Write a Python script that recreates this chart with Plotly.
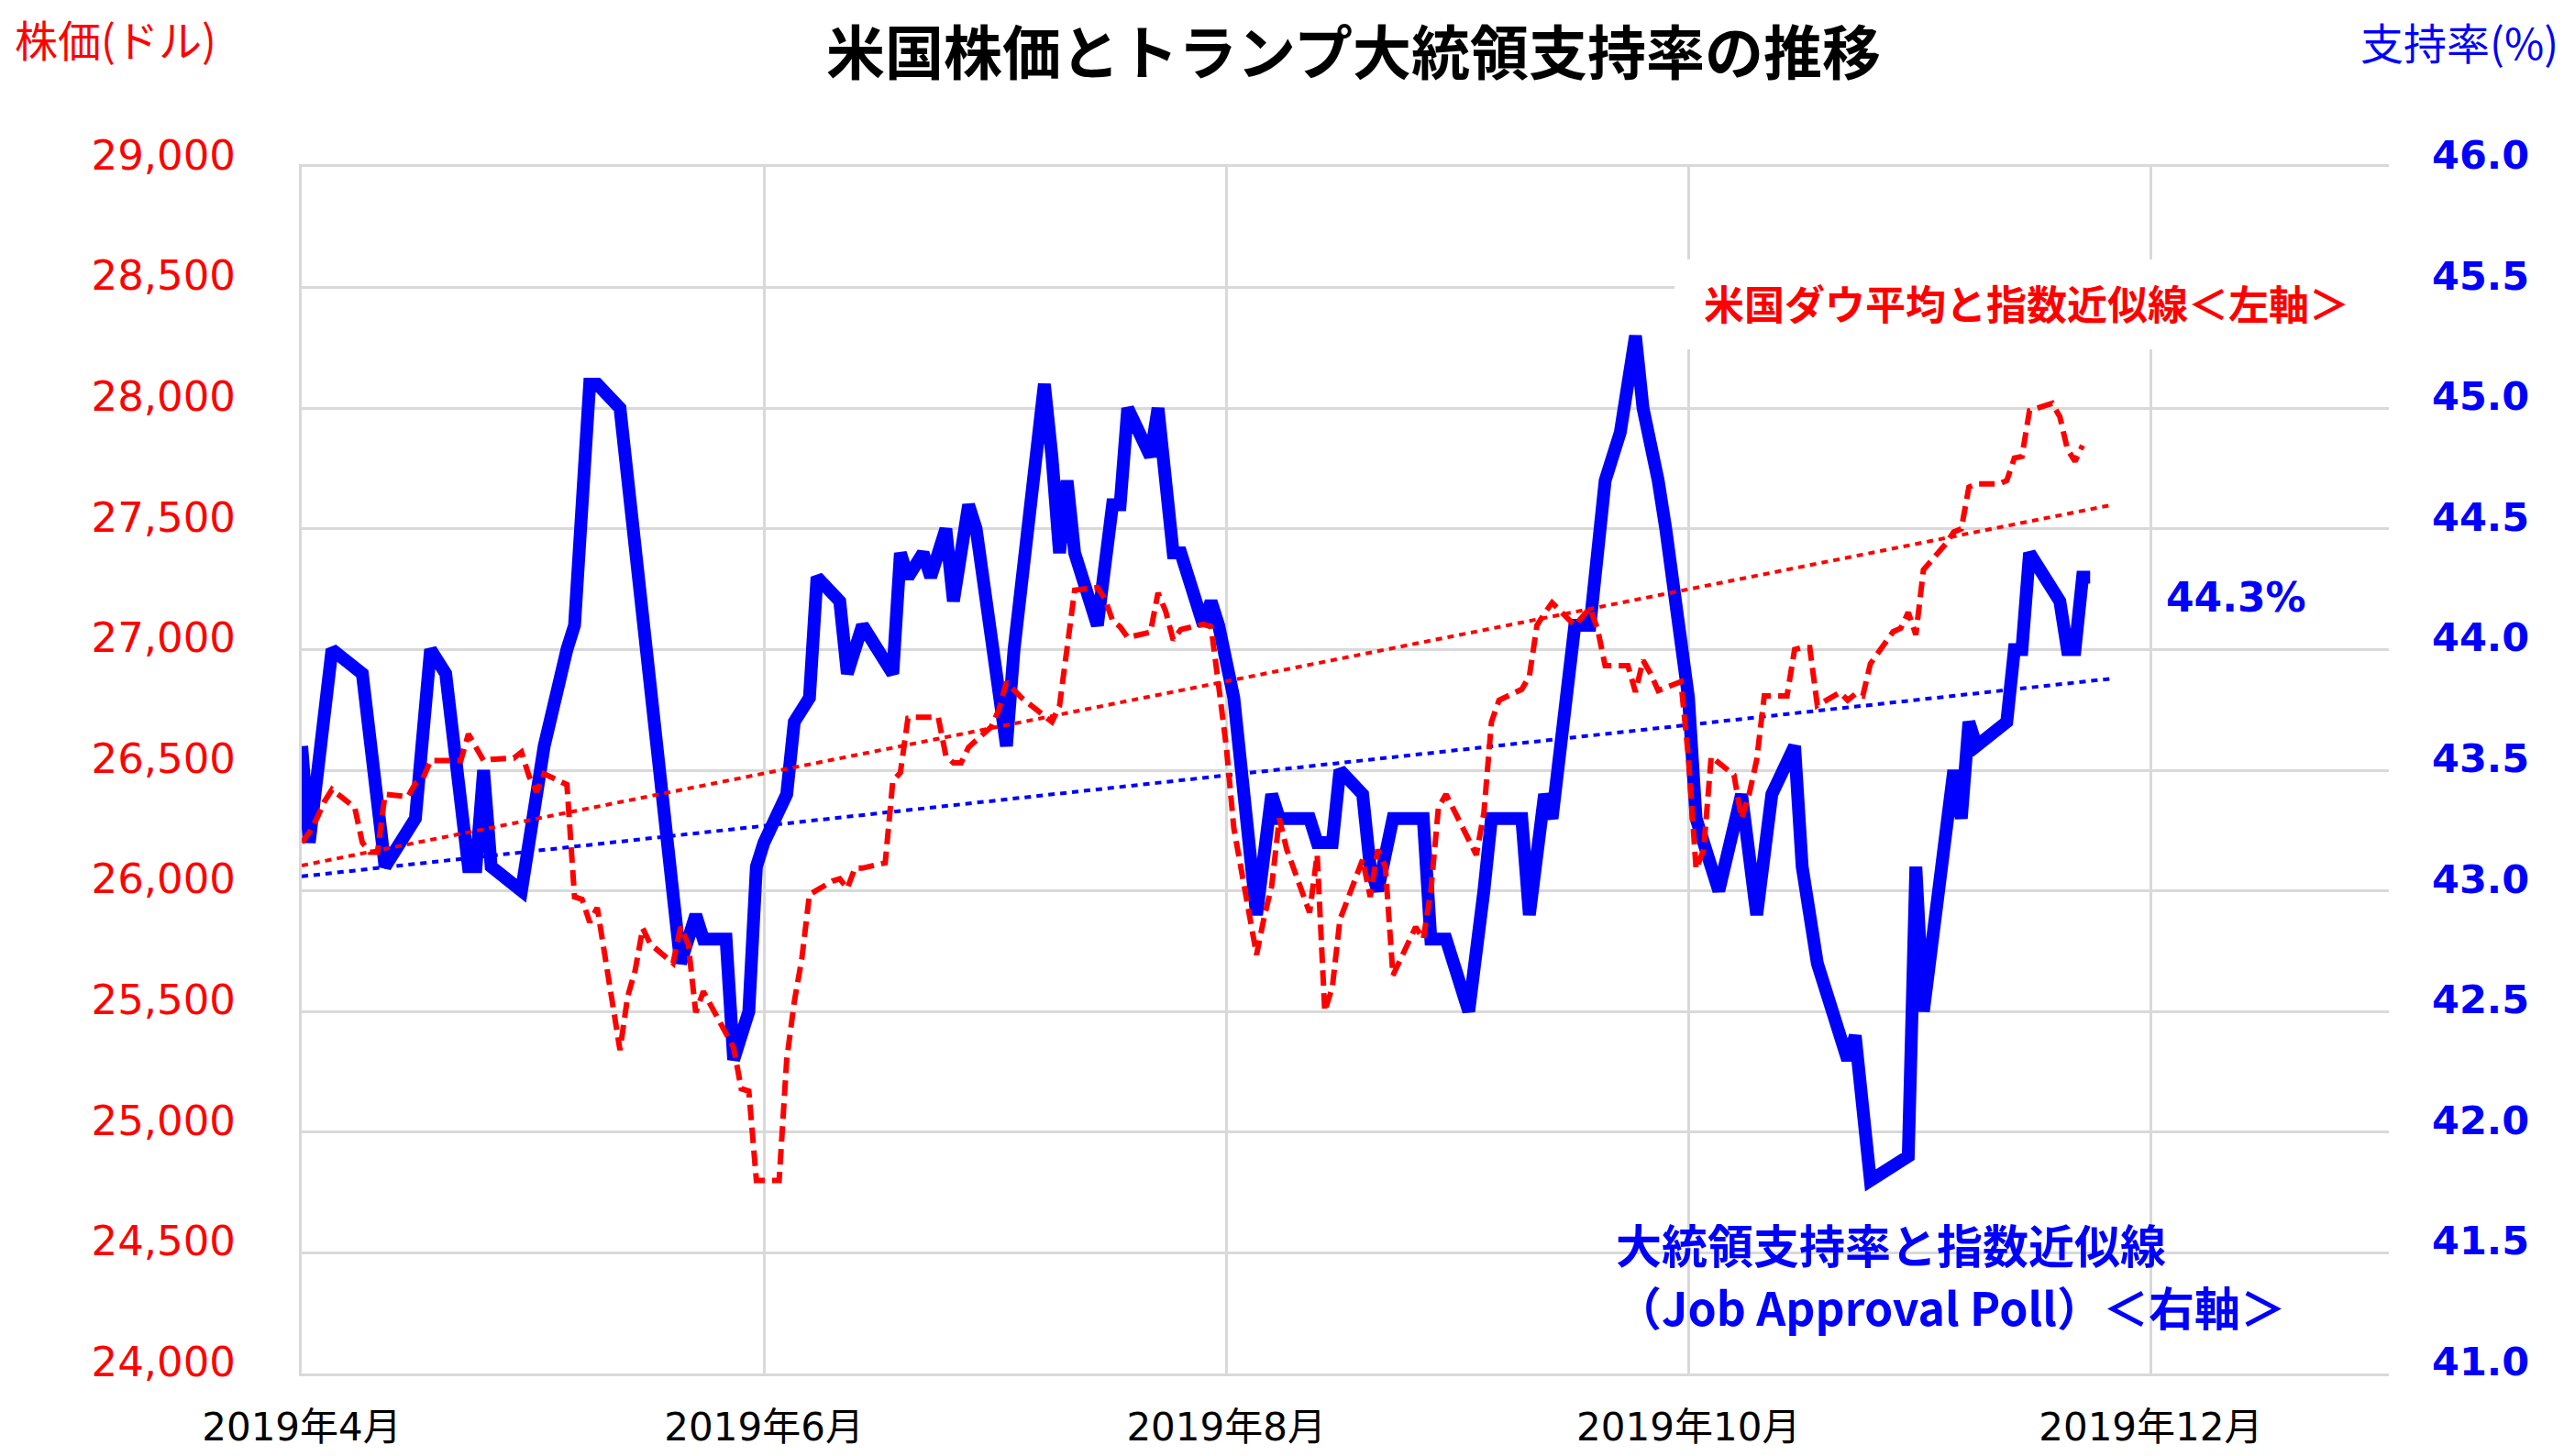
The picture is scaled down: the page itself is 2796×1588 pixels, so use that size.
import plotly.graph_objects as go

# ---------------- data ----------------
dow_dates = [
    "2019-04-01", "2019-04-02", "2019-04-03", "2019-04-04", "2019-04-05", "2019-04-08", "2019-04-09",
    "2019-04-10", "2019-04-11", "2019-04-12", "2019-04-15", "2019-04-16", "2019-04-17", "2019-04-18",
    "2019-04-22", "2019-04-23", "2019-04-24", "2019-04-25", "2019-04-26", "2019-04-29", "2019-04-30",
    "2019-05-01", "2019-05-02", "2019-05-03", "2019-05-06", "2019-05-07", "2019-05-08", "2019-05-09",
    "2019-05-10", "2019-05-13", "2019-05-14", "2019-05-15", "2019-05-16", "2019-05-17", "2019-05-20",
    "2019-05-21", "2019-05-22", "2019-05-23", "2019-05-24", "2019-05-28", "2019-05-29", "2019-05-30",
    "2019-05-31", "2019-06-03", "2019-06-04", "2019-06-05", "2019-06-06", "2019-06-07", "2019-06-10",
    "2019-06-11", "2019-06-12", "2019-06-13", "2019-06-14", "2019-06-17", "2019-06-18", "2019-06-19",
    "2019-06-20", "2019-06-21", "2019-06-24", "2019-06-25", "2019-06-26", "2019-06-27", "2019-06-28",
    "2019-07-01", "2019-07-02", "2019-07-03", "2019-07-05", "2019-07-08", "2019-07-09", "2019-07-10",
    "2019-07-11", "2019-07-12", "2019-07-15", "2019-07-16", "2019-07-17", "2019-07-18", "2019-07-19",
    "2019-07-22", "2019-07-23", "2019-07-24", "2019-07-25", "2019-07-26", "2019-07-29", "2019-07-30",
    "2019-07-31", "2019-08-01", "2019-08-02", "2019-08-05", "2019-08-06", "2019-08-07", "2019-08-08",
    "2019-08-09", "2019-08-12", "2019-08-13", "2019-08-14", "2019-08-15", "2019-08-16", "2019-08-19",
    "2019-08-20", "2019-08-21", "2019-08-22", "2019-08-23", "2019-08-26", "2019-08-27", "2019-08-28",
    "2019-08-29", "2019-08-30", "2019-09-03", "2019-09-04", "2019-09-05", "2019-09-06", "2019-09-09",
    "2019-09-10", "2019-09-11", "2019-09-12", "2019-09-13", "2019-09-16", "2019-09-17", "2019-09-18",
    "2019-09-19", "2019-09-20", "2019-09-23", "2019-09-24", "2019-09-25", "2019-09-26", "2019-09-27",
    "2019-09-30", "2019-10-01", "2019-10-02", "2019-10-03", "2019-10-04", "2019-10-07", "2019-10-08",
    "2019-10-09", "2019-10-10", "2019-10-11", "2019-10-14", "2019-10-15", "2019-10-16", "2019-10-17",
    "2019-10-18", "2019-10-21", "2019-10-22", "2019-10-23", "2019-10-24", "2019-10-25", "2019-10-28",
    "2019-10-29", "2019-10-30", "2019-10-31", "2019-11-01", "2019-11-04", "2019-11-05", "2019-11-06",
    "2019-11-07", "2019-11-08", "2019-11-11", "2019-11-12", "2019-11-13", "2019-11-14", "2019-11-15",
    "2019-11-18", "2019-11-19", "2019-11-20", "2019-11-21", "2019-11-22",
]
dow_values = [
    26200, 26240, 26300, 26370, 26420, 26345, 26200,
    26160, 26160, 26400, 26390, 26445, 26465, 26540,
    26540, 26650, 26595, 26540, 26545, 26550, 26575,
    26475, 26410, 26485, 26440, 25975, 25965, 25870,
    25930, 25340, 25560, 25670, 25845, 25780, 25700,
    25850, 25780, 25496, 25583, 25350, 25180, 25170,
    24800, 24800, 25300, 25540, 25720, 25985, 26040,
    26050, 26010, 26094, 26094, 26116, 26454, 26490,
    26715, 26719, 26719, 26560, 26530, 26530, 26595,
    26680, 26750, 26865, 26800, 26720, 26700, 26767,
    27000, 27246, 27257, 27210, 27120, 27094, 27050,
    27072, 27235, 27159, 27040, 27083, 27105, 27094,
    26850, 26600, 26260, 25735, 25890, 26020, 26300,
    26170, 25910, 26150, 25500, 25600, 25880, 26130,
    25975, 26171, 26100, 25650, 25850, 25800, 26000,
    26345, 26400, 26149, 26323, 26700, 26790, 26835,
    26889, 27100, 27150, 27194, 27100, 27140, 27172,
    27085, 26933, 26933, 26824, 26955, 26900, 26830,
    26867, 26550, 26090, 26170, 26556, 26480, 26300,
    26400, 26543, 26808, 26808, 27000, 27008, 27008,
    26768, 26822, 26790, 26815, 26808, 26941, 27074,
    27088, 27154, 27061, 27330, 27440, 27487, 27500,
    27673, 27686, 27686, 27700, 27793, 27800, 27990,
    28020, 27965, 27830, 27780, 27846,
]

approval_dates = [
    "2019-04-01", "2019-04-02", "2019-04-05", "2019-04-09", "2019-04-12", "2019-04-16", "2019-04-18",
    "2019-04-20", "2019-04-23", "2019-04-24", "2019-04-25", "2019-04-26", "2019-04-30", "2019-05-03",
    "2019-05-06", "2019-05-07", "2019-05-09", "2019-05-10", "2019-05-13", "2019-05-16", "2019-05-18",
    "2019-05-21", "2019-05-23", "2019-05-24", "2019-05-27", "2019-05-28", "2019-05-30", "2019-05-31",
    "2019-06-01", "2019-06-04", "2019-06-05", "2019-06-07", "2019-06-08", "2019-06-11", "2019-06-12",
    "2019-06-14", "2019-06-18", "2019-06-19", "2019-06-20", "2019-06-22", "2019-06-23", "2019-06-25",
    "2019-06-26", "2019-06-28", "2019-06-29", "2019-07-03", "2019-07-04", "2019-07-06", "2019-07-08",
    "2019-07-09", "2019-07-10", "2019-07-11", "2019-07-12", "2019-07-15", "2019-07-17", "2019-07-18",
    "2019-07-19", "2019-07-22", "2019-07-23", "2019-07-25", "2019-07-26", "2019-07-29", "2019-07-30",
    "2019-07-31", "2019-08-02", "2019-08-03", "2019-08-05", "2019-08-07", "2019-08-08", "2019-08-12",
    "2019-08-13", "2019-08-15", "2019-08-16", "2019-08-19", "2019-08-20", "2019-08-21", "2019-08-23",
    "2019-08-27", "2019-08-28", "2019-08-30", "2019-09-02", "2019-09-04", "2019-09-05", "2019-09-09",
    "2019-09-10", "2019-09-12", "2019-09-13", "2019-09-16", "2019-09-18", "2019-09-20", "2019-09-22",
    "2019-09-24", "2019-09-25", "2019-09-27", "2019-09-28", "2019-10-01", "2019-10-02", "2019-10-04",
    "2019-10-05", "2019-10-08", "2019-10-10", "2019-10-12", "2019-10-15", "2019-10-16", "2019-10-18",
    "2019-10-22", "2019-10-23", "2019-10-25", "2019-10-30", "2019-10-31", "2019-11-01", "2019-11-05",
    "2019-11-06", "2019-11-07", "2019-11-08", "2019-11-12", "2019-11-13", "2019-11-14", "2019-11-15",
    "2019-11-17", "2019-11-19", "2019-11-20", "2019-11-21", "2019-11-22", "2019-11-23",
]
approval_values = [
    43.6, 43.2, 44.0, 43.9, 43.1, 43.3, 44.0,
    43.9, 43.1, 43.1, 43.5, 43.1, 43.0, 43.6,
    44.0, 44.1, 45.1, 45.1, 45.0, 44.1, 43.5,
    42.7, 42.9, 42.8, 42.8, 42.3, 42.5, 43.1,
    43.2, 43.4, 43.7, 43.8, 44.3, 44.2, 43.9,
    44.1, 43.9, 44.4, 44.3, 44.4, 44.3, 44.5,
    44.2, 44.6, 44.5, 43.6, 44.0, 44.6, 45.1,
    44.8, 44.4, 44.7, 44.4, 44.1, 44.6, 44.6,
    45.0, 44.8, 45.0, 44.4, 44.4, 44.1, 44.2,
    44.1, 43.8, 43.5, 42.9, 43.4, 43.3, 43.3,
    43.2, 43.2, 43.5, 43.4, 43.1, 43.0, 43.3,
    43.3, 42.8, 42.8, 42.5, 43.0, 43.3, 43.3,
    42.9, 43.4, 43.3, 44.1, 44.1, 44.7, 44.9,
    45.3, 45.0, 44.7, 44.5, 43.8, 43.3, 43.1,
    43.0, 43.4, 42.9, 43.4, 43.6, 43.1, 42.7,
    42.3, 42.4, 41.8, 41.9, 43.1, 42.5, 43.5,
    43.3, 43.7, 43.6, 43.7, 44.0, 44.0, 44.4,
    44.3, 44.2, 44.0, 44.0, 44.3, 44.3,
]

# exponential trend lines (end points)
trend_dates = ["2019-04-01", "2019-11-26"]
dow_trend = [26105, 27600]
approval_trend = [43.06, 43.88]

x_tick_dates = ["2019-04-01", "2019-06-01", "2019-08-01", "2019-10-01", "2019-12-01"]
x_tick_labels = ["2019年4月", "2019年6月", "2019年8月", "2019年10月", "2019年12月"]

title_text = "米国株価とトランプ大統領支持率の推移"
left_axis_title = "株価(ドル)"
right_axis_title = "支持率(%)"
dow_note = "米国ダウ平均と指数近似線＜左軸＞"
approval_note_1 = "大統領支持率と指数近似線"
approval_note_2 = "（Job Approval Poll）＜右軸＞"
last_value_note = "44.3%"

# ---------------- layout geometry ----------------
W, H = 2796, 1588
L, R, T, B = 321, 2597, 174, 1490


def px(x):
    return (x - L) / (R - L)


def py(y):
    return (B - y) / (B - T)


RED = "#FF0000"
BLUE = "#0000FF"
GRID = "#D9D9D9"
CJK = "Noto Sans CJK JP"
NUM = "DejaVu Sans, Noto Sans CJK JP"

fig = go.Figure()

fig.add_trace(go.Scatter(
    x=approval_dates, y=approval_values, yaxis="y", mode="lines",
    line=dict(color=BLUE, width=14), hoverinfo="skip"))
fig.add_trace(go.Scatter(
    x=trend_dates, y=approval_trend, yaxis="y", mode="lines",
    line=dict(color=BLUE, width=4, dash="7px,6px"), hoverinfo="skip"))
fig.add_trace(go.Scatter(
    x=dow_dates, y=dow_values, yaxis="y2", mode="lines",
    line=dict(color=RED, width=6, dash="17px,8px"), hoverinfo="skip"))
fig.add_trace(go.Scatter(
    x=trend_dates, y=dow_trend, yaxis="y2", mode="lines",
    line=dict(color=RED, width=4, dash="7px,6px"), hoverinfo="skip"))

fig.update_layout(
    width=W, height=H,
    margin=dict(l=L, r=W - R, t=T, b=H - B, pad=0),
    paper_bgcolor="white", plot_bgcolor="white",
    showlegend=False,
    xaxis=dict(
        type="date", automargin=False,
        range=["2019-04-01", "2020-01-01 10:00"],
        tickvals=x_tick_dates, ticktext=x_tick_labels,
        showgrid=True, gridcolor=GRID, gridwidth=3,
        showline=True, linecolor=GRID, linewidth=3, mirror=True,
        zeroline=False, ticks="",
        tickfont=dict(family=NUM, size=42, color="black"),
        ticklabelstandoff=20,
    ),
    yaxis=dict(
        side="right", automargin=False,
        range=[41, 46], dtick=0.5, tick0=41,
        tickformat=".1f",
        showgrid=True, gridcolor=GRID, gridwidth=3,
        showline=False, zeroline=False, ticks="",
        tickfont=dict(family="DejaVu Sans", size=43, color=BLUE, weight="bold"),
        ticklabelstandoff=46, ticklabelshift=-13,
    ),
    yaxis2=dict(
        side="left", overlaying="y", automargin=False,
        range=[24000, 29000], dtick=500, tick0=24000,
        tickformat=",d",
        showgrid=False, zeroline=False, ticks="",
        showline=True, linecolor=GRID, linewidth=3,
        tickfont=dict(family=NUM, size=45, color=RED),
        ticklabelstandoff=60, ticklabelshift=-13,
    ),
)

# white box behind the Dow legend text
fig.add_shape(type="rect", xref="paper", yref="paper",
              x0=px(1818), x1=px(2597), y0=py(373), y1=py(275),
              fillcolor="white", line=dict(width=0), layer="above")

annotations = [
    dict(text=f"<b>{title_text}</b>", x=px(1468), y=py(45), xanchor="center", yanchor="middle",
         font=dict(family=CJK, size=64, color="black")),
    dict(text=left_axis_title, x=px(6), y=py(34), xanchor="left", yanchor="middle",
         font=dict(family=CJK, size=47, color=RED)),
    dict(text=right_axis_title, x=px(2784), y=py(36), xanchor="right", yanchor="middle",
         font=dict(family=CJK, size=47, color=BLUE)),
    dict(text=f"<b>{dow_note}</b>", x=px(2202), y=py(322), xanchor="center", yanchor="middle",
         font=dict(family=CJK, size=44, color=RED)),
    dict(text=f"<b>{approval_note_1}</b>", x=px(1752), y=py(1348), xanchor="left", yanchor="middle",
         font=dict(family=CJK, size=50, color=BLUE)),
    dict(text=f"<b>{approval_note_2}</b>", x=px(1752), y=py(1416), xanchor="left", yanchor="middle",
         font=dict(family=CJK, size=50, color=BLUE)),
    dict(text=f"<b>{last_value_note}</b>", x=px(2430), y=py(643), xanchor="center", yanchor="middle",
         font=dict(family="DejaVu Sans", size=44, color=BLUE)),
]
for a in annotations:
    a.update(xref="paper", yref="paper", showarrow=False)
fig.update_layout(annotations=annotations)

fig.write_html("out.html")
